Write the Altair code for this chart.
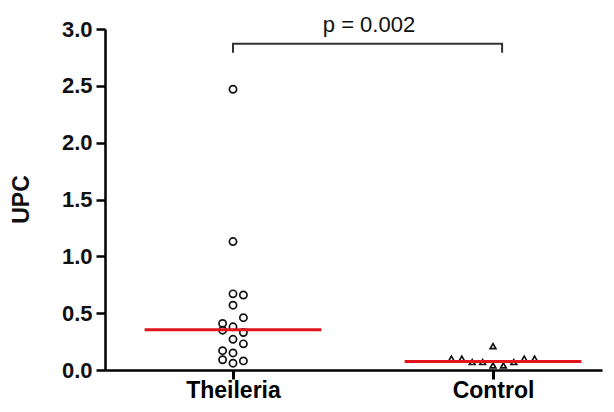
import altair as alt
import pandas as pd

groups = ["Theileria", "Control"]
group_pos = [1, 2]

theileria_upc = [2.47, 1.13, 0.67, 0.66, 0.57, 0.46, 0.41, 0.35, 0.38, 0.33,
                 0.27, 0.23, 0.17, 0.15, 0.09, 0.06, 0.08]
theileria_col = [0, 0, 0, 1, 0, 1, -1, -1, 0, 1, 0, 1, -1, 0, -1, 0, 1]

control_upc = [0.21, 0.10, 0.10, 0.07, 0.07, 0.04, 0.04, 0.07, 0.10, 0.10]
control_col = [0, -4, -3, -2, -1, 0, 1, 2, 3, 4]

medians = [0.355, 0.075]

p_label = "p = 0.002"
bracket_x = [1, 1, 2.035, 2.035]
bracket_y = [2.79, 2.87, 2.87, 2.79]
p_x = [1.523]
p_y = [2.975]

y_ticks = [0, 0.5, 1.0, 1.5, 2.0, 2.5, 3.0]

FONT = "Liberation Sans"
XSCALE = alt.Scale(domain=[0.5077, 2.4192], nice=False, zero=False)
YSCALE = alt.Scale(domain=[0, 3], nice=False, zero=True)

pts = pd.DataFrame({
    "group": [groups[0]] * len(theileria_upc) + [groups[1]] * len(control_upc),
    "pos": [group_pos[0]] * len(theileria_upc) + [group_pos[1]] * len(control_upc),
    "col": theileria_col + control_col,
    "upc": theileria_upc + control_upc,
})
med = pd.DataFrame({"group": groups, "pos": group_pos, "median": medians})
br = pd.DataFrame({"i": list(range(len(bracket_x))), "bx": bracket_x, "by": bracket_y})
pt = pd.DataFrame({"px": p_x, "py": p_y, "label": [p_label]})

label_expr = " : ".join(
    f"datum.value == {p} ? '{g}'" for p, g in zip(group_pos, groups)
) + " : ''"

x_axis = alt.Axis(
    values=group_pos, labelExpr=label_expr, title=None, grid=False,
    domainColor="black", domainWidth=2.5, tickColor="black", tickWidth=3,
    tickSize=9, labelPadding=0, labelFont=FONT, labelFontSize=23,
    labelFontWeight="bold", labelColor="black",
)
y_axis = alt.Axis(
    values=y_ticks, format=".1f", grid=False, domainColor="black",
    domainWidth=2.5, tickColor="black", tickWidth=2.5, tickSize=9,
    labelPadding=4, labelFont=FONT, labelFontSize=22, labelFontWeight="bold",
    labelColor="#111", title="UPC", titleFont=FONT, titleFontSize=23,
    titleFontWeight="bold", titleColor="#111", titleX=-84, titleY=170,
    titleAngle=270, titleBaseline="middle", titleAlign="center",
)

points = alt.Chart(pts).transform_calculate(
    xj="datum.pos + datum.col * 0.04"
).mark_point(filled=False, strokeWidth=1.7, opacity=1).encode(
    x=alt.X("xj:Q", scale=XSCALE, axis=x_axis),
    y=alt.Y("upc:Q", scale=YSCALE, axis=y_axis),
    shape=alt.Shape("group:N", scale=alt.Scale(domain=groups, range=["circle", "triangle-up"]), legend=None),
    size=alt.Size("group:N", scale=alt.Scale(domain=groups, range=[52, 32]), legend=None),
    color=alt.value("#111"),
)

lines = alt.Chart(med).transform_calculate(
    x1="datum.pos - 0.34", x2="datum.pos + 0.34"
).mark_rule(color="#e3151c", strokeWidth=3).encode(
    x=alt.X("x1:Q", scale=XSCALE, axis=x_axis),
    x2="x2:Q",
    y=alt.Y("median:Q", scale=YSCALE, axis=y_axis),
)

bracket = alt.Chart(br).mark_line(color="#333", strokeWidth=2).encode(
    x=alt.X("bx:Q", scale=XSCALE, axis=x_axis),
    y=alt.Y("by:Q", scale=YSCALE, axis=y_axis),
    order="i:Q",
)

ptext = alt.Chart(pt).mark_text(
    font=FONT, fontSize=22, baseline="alphabetic", align="center", color="#111"
).encode(
    x=alt.X("px:Q", scale=XSCALE, axis=x_axis),
    y=alt.Y("py:Q", scale=YSCALE, axis=y_axis),
    text="label:N",
)

chart = alt.layer(points, lines, bracket, ptext).properties(
    width=497, height=341, autosize=alt.AutoSizeParams(type="none"),
    padding={"left": 97, "top": 21, "right": 4, "bottom": 34},
).configure_view(stroke=None)

chart.save("out.html", embed_options={"renderer": "svg", "actions": False})
